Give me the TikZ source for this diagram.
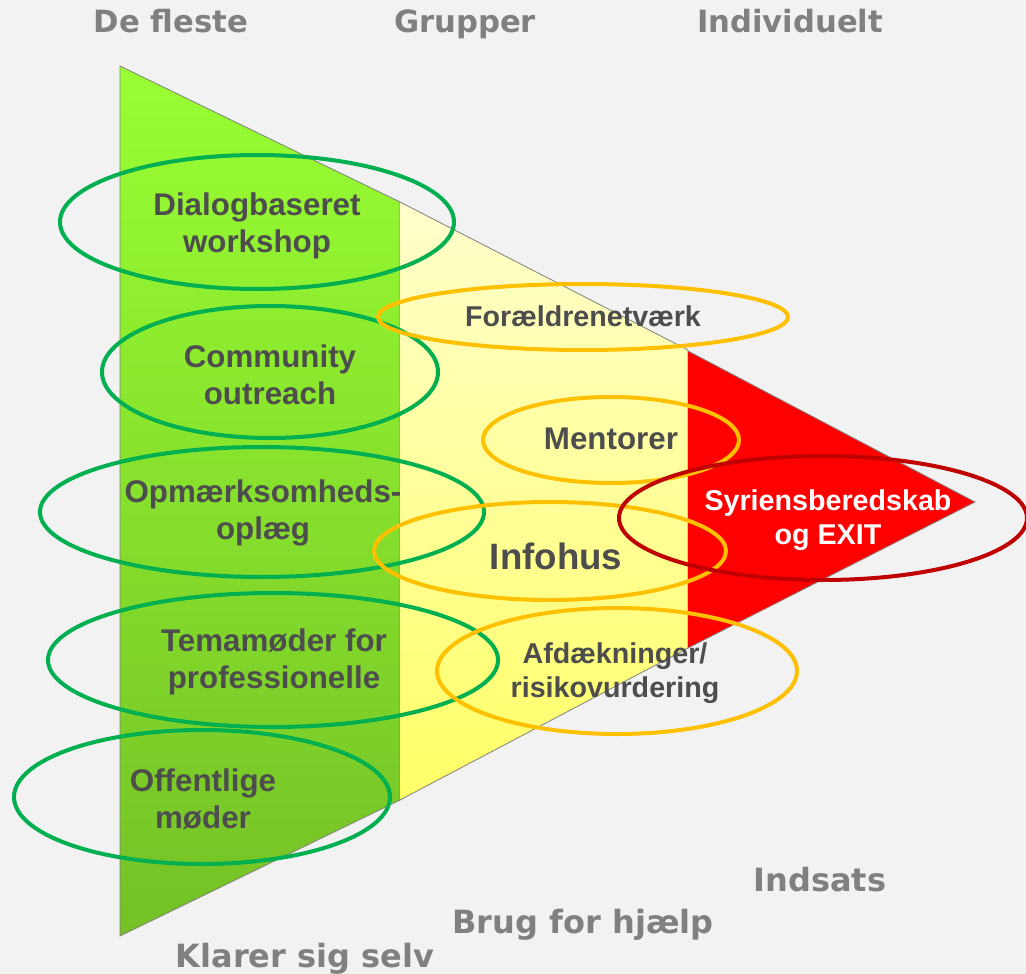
\documentclass[tikz,border=0pt]{standalone}
\usepackage{fontspec}
\setmainfont{Liberation Sans}
\newfontfamily\headfont{DejaVu Sans}
\newfontfamily\footfont{DejaVu Sans}
\usetikzlibrary{positioning}

\definecolor{bgGray}{HTML}{F2F2F2}
\definecolor{lblGray}{HTML}{808080}
\definecolor{txtGray}{HTML}{4D4D4D}
\definecolor{greenTop}{HTML}{99FF33}
\definecolor{greenBot}{HTML}{74C026}
\definecolor{yellowTop}{HTML}{FFFFCC}
\definecolor{yellowBot}{HTML}{FFFF66}
\definecolor{ringGreen}{HTML}{00B050}
\definecolor{ringYellow}{HTML}{FFC000}
\definecolor{ringRed}{HTML}{C00000}

\begin{document}
\begin{tikzpicture}[x=0.75pt,y=0.75pt,yscale=-1,xscale=1,
  headlbl/.style={anchor=base,inner sep=0pt,text=lblGray,font=\headfont\bfseries\fontsize{23}{27}\selectfont},
  footlbl/.style={anchor=base,inner sep=0pt,text=lblGray,font=\footfont\bfseries\fontsize{24}{28}\selectfont},
  item/.style={inner sep=0pt,align=center,text=txtGray,font=\bfseries\fontsize{23.5}{27.75}\selectfont},
  smallitem/.style={item,font=\bfseries\fontsize{21.5}{25.5}\selectfont},
  ring/.style={line width=3pt}]
%set diagram size
\fill [bgGray] (0,0) rectangle (1026,974);
\useasboundingbox (0,0) rectangle (1026,974);

%Shape: Green part
\shade [top color=greenTop,bottom color=greenBot] (120,66) -- (400,202) -- (400,800) -- (120,936) -- cycle ;
\draw [color=lblGray,line width=0.6] (120,66) -- (400,202) -- (400,800) -- (120,936) -- cycle ;
%Shape: Yellow part
\shade [top color=yellowTop,bottom color=yellowBot] (400,202) -- (688,350) -- (688,648) -- (400,800) -- cycle ;
\draw [color=lblGray,line width=0.6] (400,202) -- (688,350) -- (688,648) -- (400,800) ;
%Shape: Red part
\fill [red] (688,351) -- (975,502) -- (688,648) -- cycle ;
\draw [color=lblGray,line width=0.6] (688,351) -- (975,502) -- (688,648) ;

%Shape: Ellipses
\draw [ring,ringGreen] (257,222) ellipse [x radius=197, y radius=67] ;
\draw [ring,ringGreen] (270,372) ellipse [x radius=168, y radius=66] ;
\draw [ring,ringGreen] (262,512) ellipse [x radius=222, y radius=65] ;
\draw [ring,ringGreen] (273,660) ellipse [x radius=225, y radius=67] ;
\draw [ring,ringGreen] (202,797) ellipse [x radius=188, y radius=67] ;
\draw [ring,ringYellow] (583,317) ellipse [x radius=205, y radius=33] ;
\draw [ring,ringYellow] (611,440) ellipse [x radius=128, y radius=43] ;
\draw [ring,ringYellow] (550,551) ellipse [x radius=176, y radius=49] ;
\draw [ring,ringYellow] (617,671) ellipse [x radius=180, y radius=63] ;
\draw [ring,ringRed] (823,518) ellipse [x radius=204, y radius=62] ;

% Text Node
\node [headlbl] (fleste) at (171,33) {De fleste};
\node [headlbl] (grupper) at (465,33) {Grupper};
\node [headlbl] (individ) at (790,33) {Individuelt};
% Text Node
\node [item] (dialog) at (257,226) {Dialogbaseret\\workshop};
\node [item] (outreach) at (270,375) {Community\\outreach};
\node [item] (oplaeg) at (263,513) {Opmærksomheds-\\oplæg};
\node [item] (tema) at (274,662) {Temamøder for\\professionelle};
\node [item] (offentl) at (203,799) {Offentlige\\møder};
% Text Node
\node [smallitem] (foraeld) at (583,316) {Forældrenetværk};
\node [item] (mentor) at (611,439) {Mentorer};
\node [item,font=\bfseries\fontsize{27.5}{32}\selectfont] (infohus) at (556,556) {Infohus};
\node [smallitem] (afdaek) at (615,673) {Afdækninger/\\risikovurdering};
\node [smallitem,text=white] (syrien) at (828,520) {Syriensberedskab\\og EXIT};
% Text Node
\node [footlbl] (indsats) at (820,891) {Indsats};
\node [footlbl] (hjaelp) at (583,933) {Brug for hjælp};
\node [footlbl] (klarer) at (305,967) {Klarer sig selv};

\end{tikzpicture}
\end{document}
